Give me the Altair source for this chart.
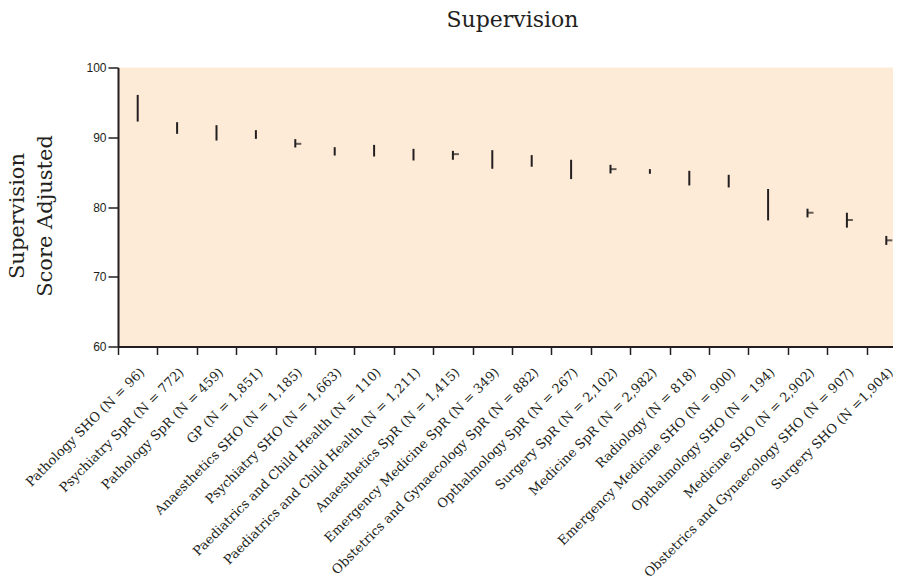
import altair as alt
import pandas as pd

categories = [
    "Pathology SHO (N = 96)",
    "Psychiatry SpR (N = 772)",
    "Pathology SpR (N = 459)",
    "GP (N = 1,851)",
    "Anaesthetics SHO (N = 1,185)",
    "Psychiatry SHO (N = 1,663)",
    "Paediatrics and Child Health (N = 110)",
    "Paediatrics and Child Health (N = 1,211)",
    "Anaesthetics SpR (N = 1,415)",
    "Emergency Medicine SpR (N = 349)",
    "Obstetrics and Gynaecology SpR (N = 882)",
    "Opthalmology SpR (N = 267)",
    "Surgery SpR (N = 2,102)",
    "Medicine SpR (N = 2,982)",
    "Radiology (N = 818)",
    "Emergency Medicine SHO (N = 900)",
    "Opthalmology SHO (N = 194)",
    "Medicine SHO (N = 2,902)",
    "Obstetrics and Gynaecology SHO (N = 907)",
    "Surgery SHO (N =1,904)",
]
upper = [96.07, 92.16, 91.73, 91.02, 89.73, 88.58, 88.91, 88.34, 88.05, 88.15,
         87.44, 86.77, 86.05, 85.43, 85.19, 84.62, 82.58, 79.76, 79.18, 75.85]
lower = [92.25, 90.49, 89.53, 89.77, 88.53, 87.38, 87.24, 86.67, 86.77, 85.48,
         85.77, 84.00, 84.81, 84.76, 83.09, 82.80, 78.08, 78.51, 77.04, 74.56]
mean_mark = [None, None, None, None, 89.06, None, None, None, 87.58, None,
             None, None, 85.43, None, None, None, None, 79.18, 78.14, 75.22]

df = pd.DataFrame({"cat": categories, "lo": lower, "hi": upper, "mean": mean_mark})

serif = "DejaVu Serif"
ink = "#231f20"

x_enc = alt.X(
    "cat:N",
    sort=categories,
    scale=alt.Scale(type="band", range=[0, 788], paddingInner=0, paddingOuter=0),
    axis=alt.Axis(
        title=None,
        labelAngle=-45,
        labelFont=serif,
        labelFontSize=13,
        labelColor=ink,
        labelPadding=11,
        tickBand="extent",
        tickSize=8,
        tickColor=ink,
        tickWidth=1.5,
        domainColor=ink,
        domainWidth=2,
        labelLimit=400,
    ),
)

y_scale = alt.Scale(domain=[60, 100], nice=False, zero=False)

rules = alt.Chart(df).mark_rule(color=ink, strokeWidth=2).encode(
    x=x_enc,
    y=alt.Y(
        "lo:Q",
        scale=y_scale,
        axis=alt.Axis(
            title=["Supervision", "Score Adjusted"],
            titleFont=serif,
            titleFontSize=21,
            titleFontWeight="normal",
            titleColor=ink,
            titleLineHeight=28,
            titleX=-91,
            titleY=148,
            titleBaseline="bottom",
            values=[60, 65, 70, 75, 80, 85, 90, 95, 100],
            labelFont="Liberation Sans",
            labelFontSize=12,
            labelColor=ink,
            labelPadding=2,
            tickSize=10,
            tickColor=ink,
            tickWidth=1.5,
            domainColor=ink,
            domainWidth=2,
            grid=False,
        ),
    ),
    y2="hi:Q",
)

means = alt.Chart(df).transform_filter("datum.mean != null").mark_tick(
    color=ink, orient="horizontal", size=6, thickness=2, xOffset=3
).encode(
    x=alt.X("cat:N", sort=categories),
    y=alt.Y("mean:Q", scale=y_scale),
)

chart = (
    alt.layer(rules, means)
    .properties(
        width=775,
        height=279,
        title=alt.TitleParams(
            "Supervision", font=serif, fontSize=22, fontWeight="normal",
            color=ink, anchor="middle", dx=7, offset=30,
        ),
        autosize=alt.AutoSizeParams(type="none"),
        padding={"left": 110, "top": 59.5, "right": 0, "bottom": 230},
    )
    .configure_view(fill="#fdebd8", strokeWidth=0)
)

chart.save("out.html", embed_options={"renderer": "svg", "actions": False})
